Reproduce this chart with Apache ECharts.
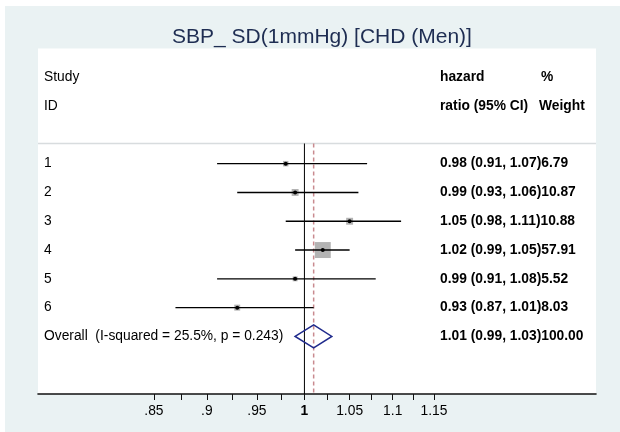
<!DOCTYPE html>
<html>
<head>
<meta charset="utf-8">
<script src="https://cdn.jsdelivr.net/npm/echarts@6/dist/echarts.min.js"></script>
<style>
  html, body { margin: 0; padding: 0; background: #ffffff; }
  #chart { width: 620px; height: 432px; }
</style>
</head>
<body>
<div id="chart"></div>
<script>
// Per-study estimates (hazard ratio with 95% CI) and % weight
const studyIds    = ['1', '2', '3', '4', '5', '6'];
const hazardRatio = [0.98, 0.99, 1.05, 1.02, 0.99, 0.93];
const ciLower     = [0.91, 0.93, 0.98, 0.99, 0.91, 0.87];
const ciUpper     = [1.07, 1.06, 1.11, 1.05, 1.08, 1.01];
const weightPct   = [6.79, 10.87, 10.88, 57.91, 5.52, 8.03];

// Pooled estimate
const pooledHR = 1.01;
const pooledLower = 0.99;
const pooledUpper = 1.03;
const pooledWeight = 100.00;
const heterogeneityText = 'Overall  (I-squared = 25.5%, p = 0.243)';

// Axis ticks (log scale)
const tickValues   = [0.85, 0.875, 0.9, 0.925, 0.95, 0.975, 1, 1.025, 1.05, 1.075, 1.1, 1.125, 1.15];
const labeledTicks = [0.85, 0.9, 0.95, 1, 1.05, 1.1, 1.15];
const tickLabels   = ['.85', '.9', '.95', '1', '1.05', '1.1', '1.15'];
const axisMin = 0.75;
const axisMax = 1.37;

const titleText = 'SBP_ SD(1mmHg) [CHD (Men)]';
const headerLeft  = ['Study', 'ID'];
const headerMid   = ['hazard', 'ratio (95% CI)'];
const headerRight = ['%', 'Weight'];

// Row layout (rows counted from the top of the plot region)
const FIRST_STUDY_ROW = 4;
const OVERALL_ROW = FIRST_STUDY_ROW + studyIds.length;
const SEPARATOR_ROW = 3.3;
const TOTAL_ROWS = 12;

const FONT = '"Liberation Sans", Arial, sans-serif';
const FONT_SIZE = 13.8;
const BOX_SCALE = 2.1;
const LEFT_TEXT_X = 44;
const CI_TEXT_X = 440;
const WEIGHT_HEAD_X = 539;

const ln = Math.log;
const fmt = v => v.toFixed(2);

const studyData = studyIds.map((id, i) => [
  ln(hazardRatio[i]), FIRST_STUDY_ROW + i, ln(ciLower[i]), ln(ciUpper[i]), weightPct[i]
]);

// Text columns
const leftRows = [1, 2].concat(studyIds.map((_, i) => FIRST_STUDY_ROW + i), [OVERALL_ROW]);
const leftTexts = headerLeft.concat(studyIds, [heterogeneityText]);
const ciRows = studyIds.map((_, i) => FIRST_STUDY_ROW + i).concat([OVERALL_ROW]);
const ciTexts = studyIds.map((_, i) =>
  fmt(hazardRatio[i]) + ' (' + fmt(ciLower[i]) + ', ' + fmt(ciUpper[i]) + ')' + fmt(weightPct[i])
).concat([fmt(pooledHR) + ' (' + fmt(pooledLower) + ', ' + fmt(pooledUpper) + ')' + fmt(pooledWeight)]);

const chart = echarts.init(document.getElementById('chart'), null, { renderer: 'canvas' });

function textEl(x, y, text, bold) {
  return {
    type: 'text',
    x: x, y: y,
    style: {
      text: text, fill: '#000', font: (bold ? 'bold ' : '') + FONT_SIZE + 'px ' + FONT,
      textAlign: 'left', textVerticalAlign: 'middle'
    }
  };
}

const option = {
  backgroundColor: '#ffffff',
  animation: false,
  graphic: [{
    type: 'rect', left: 5, top: 6, z: -10,
    shape: { width: 615, height: 426 },
    style: { fill: '#eaf2f3' }
  }],
  title: {
    text: titleText,
    left: 317, top: 22, textAlign: 'center',
    textStyle: { fontFamily: FONT, fontSize: 21, fontWeight: 'normal', color: '#1e2d52' }
  },
  grid: { left: 38, right: 24, top: 48.5, bottom: 38, show: true, backgroundColor: '#ffffff', borderWidth: 0 },
  xAxis: {
    type: 'value', position: 'bottom', min: ln(axisMin), max: ln(axisMax),
    axisLine: { show: true, onZero: false, lineStyle: { color: '#111', width: 1.6 } },
    axisTick: { show: true, customValues: tickValues.map(ln), length: 6, lineStyle: { color: '#111', width: 1 } },
    axisLabel: {
      customValues: labeledTicks.map(ln), margin: 10,
      fontFamily: FONT, fontSize: FONT_SIZE, color: '#000',
      formatter: v => {
        const i = labeledTicks.findIndex(t => Math.abs(ln(t) - v) < 1e-9);
        if (i < 0) return '';
        return labeledTicks[i] === 1 ? '{b|' + tickLabels[i] + '}' : tickLabels[i];
      },
      rich: { b: { fontFamily: FONT, fontSize: FONT_SIZE, fontWeight: 'bold', color: '#000' } }
    },
    splitLine: { show: false }
  },
  yAxis: { type: 'value', inverse: true, min: 0, max: TOTAL_ROWS, show: false },
  series: [
    {
      // separator, null line and pooled-estimate line
      type: 'custom', clip: false, z: 1,
      data: [[ln(pooledHR)]],
      renderItem: (params, api) => {
        const sepL = api.coord([ln(axisMin), SEPARATOR_ROW]);
        const sepR = api.coord([ln(axisMax), SEPARATOR_ROW]);
        const nullTop = api.coord([0, SEPARATOR_ROW]);
        const nullBot = api.coord([0, TOTAL_ROWS]);
        const pTop = api.coord([api.value(0), SEPARATOR_ROW]);
        const pBot = api.coord([api.value(0), TOTAL_ROWS]);
        return { type: 'group', children: [
          { type: 'line', shape: { x1: sepL[0], y1: sepL[1], x2: sepR[0], y2: sepR[1] }, style: { stroke: '#d8dcde', lineWidth: 1.5 } },
          { type: 'line', shape: { x1: nullTop[0], y1: nullTop[1], x2: nullBot[0], y2: nullBot[1] }, style: { stroke: '#000', lineWidth: 1 } },
          { type: 'line', shape: { x1: pTop[0], y1: pTop[1], x2: pBot[0], y2: pBot[1] }, style: { stroke: '#c98a8f', lineWidth: 1.5, lineDash: [4, 3] } }
        ] };
      }
    },
    {
      // study boxes and confidence intervals
      type: 'custom', clip: false, z: 2,
      data: studyData,
      renderItem: (params, api) => {
        const row = api.value(1);
        const c = api.coord([api.value(0), row]);
        const l = api.coord([api.value(2), row]);
        const r = api.coord([api.value(3), row]);
        const s = Math.sqrt(api.value(4)) * BOX_SCALE;
        return { type: 'group', children: [
          { type: 'rect', shape: { x: c[0] - s / 2, y: c[1] - s / 2, width: s, height: s }, style: { fill: '#b3b3b3' } },
          { type: 'line', shape: { x1: l[0], y1: c[1], x2: r[0], y2: c[1] }, style: { stroke: '#000', lineWidth: 1.4 } },
          { type: 'circle', shape: { cx: c[0], cy: c[1], r: 2 }, style: { fill: '#000' } }
        ] };
      }
    },
    {
      // pooled diamond
      type: 'custom', clip: false, z: 3,
      data: [[ln(pooledHR), OVERALL_ROW, ln(pooledLower), ln(pooledUpper)]],
      renderItem: (params, api) => {
        const row = api.value(1);
        const c = api.coord([api.value(0), row]);
        const l = api.coord([api.value(2), row]);
        const r = api.coord([api.value(3), row]);
        const h = 11.5;
        return {
          type: 'polygon',
          shape: { points: [[l[0], c[1]], [c[0], c[1] - h], [r[0], c[1]], [c[0], c[1] + h]] },
          style: { fill: 'none', stroke: '#1f2a8c', lineWidth: 1.5 }
        };
      }
    },
    {
      // study labels
      type: 'custom', clip: false, z: 4,
      data: leftRows.map(r => [0, r]),
      renderItem: (params, api) => {
        const p = api.coord([0, api.value(1)]);
        return textEl(LEFT_TEXT_X, p[1], leftTexts[params.dataIndex], false);
      }
    },
    {
      // estimate and weight text
      type: 'custom', clip: false, z: 4,
      data: ciRows.map(r => [0, r]),
      renderItem: (params, api) => {
        const p = api.coord([0, api.value(1)]);
        return textEl(CI_TEXT_X, p[1], ciTexts[params.dataIndex], true);
      }
    },
    {
      // column headers
      type: 'custom', clip: false, z: 4,
      data: [[0, 1], [0, 2]],
      renderItem: (params, api) => {
        const p = api.coord([0, api.value(1)]);
        const i = params.dataIndex;
        return { type: 'group', children: [
          textEl(CI_TEXT_X, p[1], headerMid[i], true),
          textEl(i === 0 ? WEIGHT_HEAD_X + 2 : WEIGHT_HEAD_X, p[1], headerRight[i], true)
        ] };
      }
    }
  ]
};

chart.setOption(option);
</script>
</body>
</html>
